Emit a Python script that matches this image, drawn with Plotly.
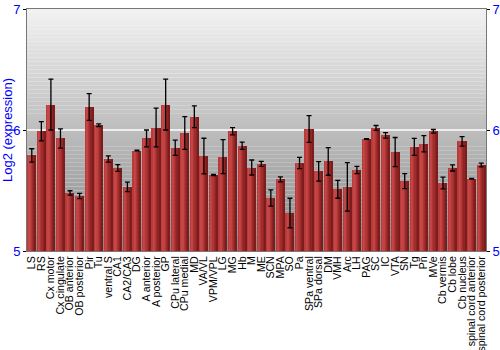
import plotly.graph_objects as go

regions = ["LS", "RS", "Cx motor", "Cx cingulate", "OB anterior", "OB posterior", "Pir", "Tu",
           "ventral S", "CA1", "CA2/CA3", "DG", "A anterior", "A posterior", "GP", "CPu lateral",
           "CPu medial", "MD", "VA/VL", "VPM/VPL", "LG", "MG", "Hb", "M", "ME", "SCN", "MPA",
           "SO", "Pa", "SPa ventral", "SPa dorsal", "DM", "VMH", "Arc", "LH", "PAG", "SC", "IC",
           "VTA", "SN", "Tg", "Pn", "MVe", "Cb vermis", "Cb lobe", "Cb nucleus",
           "spinal cord anterior", "spinal cord posterior"]
expression = [5.79, 5.99, 6.21, 5.93, 5.48, 5.455, 6.19, 6.04,
              5.76, 5.686, 5.53, 5.83, 5.93, 6.02, 6.21, 5.854,
              5.975, 6.11, 5.785, 5.628, 5.78, 5.99, 5.87, 5.69, 5.72, 5.438, 5.592,
              5.314, 5.727, 6.008, 5.658, 5.74, 5.51, 5.53, 5.67, 5.926, 6.017, 5.956,
              5.818, 5.578, 5.86, 5.887, 5.989, 5.562, 5.686, 5.906,
              5.598, 5.711]
error = [0.055, 0.08, 0.21, 0.08, 0.018, 0.022, 0.11, 0.011,
         0.026, 0.028, 0.04, 0.003, 0.07, 0.16, 0.21, 0.063,
         0.135, 0.09, 0.147, 0.005, 0.14, 0.03, 0.03, 0.062, 0.02, 0.067, 0.02,
         0.122, 0.047, 0.11, 0.08, 0.114, 0.074, 0.2, 0.03, 0.003, 0.02, 0.023,
         0.12, 0.062, 0.07, 0.067, 0.015, 0.048, 0.025, 0.04,
         0.003, 0.015]
y_ticks = [5, 6, 7]

fig = go.Figure()

# Bar body built from vertical stripes to imitate the shaded bar
stripe_colors = ["#b83a3a", "#c44646", "#c04242", "#b03535", "#a02c2c", "#8e2424", "#7c1c1c"]
bar_w = 0.86
n = len(stripe_colors)
sw = bar_w / n
for i, c in enumerate(stripe_colors):
    fig.add_trace(go.Bar(
        x=regions, y=[v - 5 for v in expression], base=5,
        width=sw * 1.05, offset=-bar_w / 2 + i * sw,
        marker=dict(color=c, line=dict(width=0)),
        hoverinfo="skip", showlegend=False,
    ))

# error bars
fig.add_trace(go.Scatter(
    x=regions, y=expression, mode="markers",
    marker=dict(size=0.1, color="rgba(0,0,0,0)"),
    error_y=dict(type="data", array=error, visible=True, color="black", thickness=1.3, width=2.5),
    showlegend=False, hoverinfo="skip",
))
# right axis mirror trace
fig.add_trace(go.Scatter(x=[regions[0]], y=[5], yaxis="y2", mode="markers",
                         marker=dict(color="rgba(0,0,0,0)"), showlegend=False, hoverinfo="skip"))

# background gradient
nb = 60
top = (242, 242, 242)
bot = (136, 136, 136)
for k in range(nb):
    t = (k + 0.5) / nb
    col = tuple(int(round(top[j] + (bot[j] - top[j]) * t)) for j in range(3))
    fig.add_shape(type="rect", xref="paper", yref="paper", x0=0, x1=1,
                  y0=1 - (k + 1) / nb, y1=1 - k / nb,
                  fillcolor="rgb(%d,%d,%d)" % col, line=dict(width=0), layer="below")

axis_font = dict(family="Liberation Sans, Arial, sans-serif", size=13, color="blue")
fig.update_layout(
    width=500, height=350,
    margin=dict(l=27, r=14, t=9, b=99),
    paper_bgcolor="white", plot_bgcolor="white",
    barmode="overlay", bargap=0,
    xaxis=dict(type="category", tickangle=-90, showgrid=False, ticks="",
               tickmode="array", tickvals=regions, ticktext=regions,
               tickfont=dict(family="Liberation Sans, Arial, sans-serif", size=10.6, color="black"),
               showline=True, linecolor="#777", linewidth=1, mirror=True, automargin=False,
               range=[-0.5, len(regions) - 0.5]),
    yaxis=dict(range=[5, 7], tickvals=y_ticks, ticks="outside", ticklen=3, tickcolor="black",
               tickfont=axis_font, showgrid=True, gridcolor="#eeeeee", gridwidth=2,
               showline=True, linecolor="#777", linewidth=1, zeroline=False, automargin=False,
               title=dict(text="Log2 (expression)", font=dict(family="Liberation Sans, Arial, sans-serif", size=13, color="blue"), standoff=0)),
    yaxis2=dict(range=[5, 7], tickvals=y_ticks, ticks="outside", ticklen=3, tickcolor="black",
                tickfont=axis_font, overlaying="y", side="right", showgrid=False, automargin=False,
                showline=True, linecolor="#777", linewidth=1, zeroline=False),
)

fig.write_html("out.html")
